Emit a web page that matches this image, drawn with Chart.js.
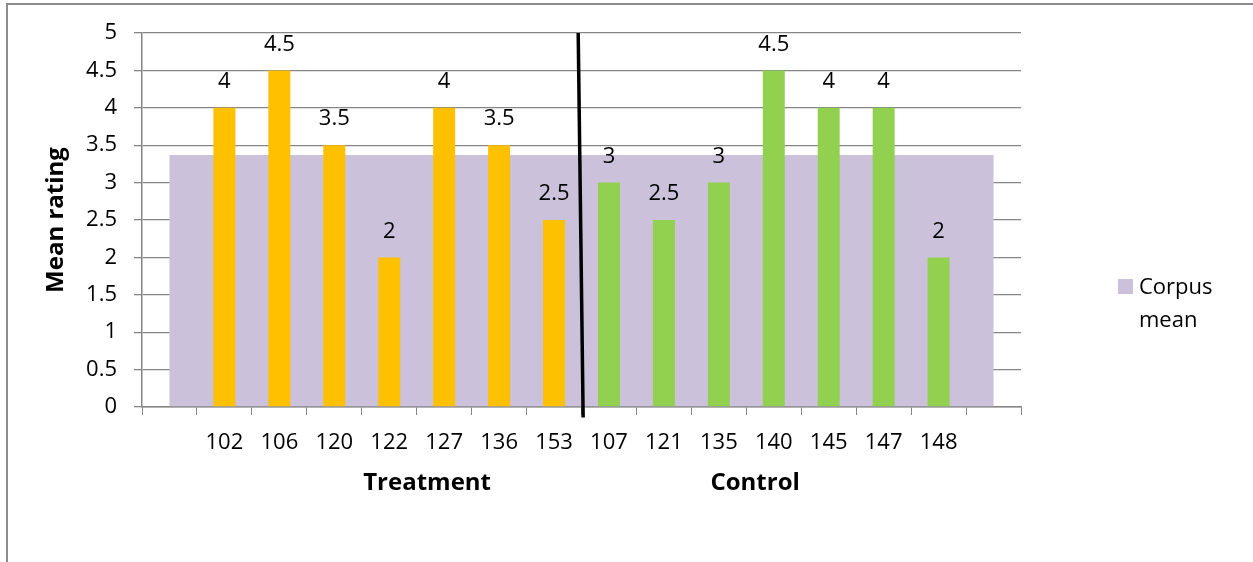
<!DOCTYPE html>
<html>
<head>
<meta charset="utf-8">
<script src="https://cdn.jsdelivr.net/npm/chart.js@4/dist/chart.umd.min.js"></script>
<style>
  html, body { margin: 0; padding: 0; background: #fff; }
  #wrap { width: 1253px; height: 562px; position: relative; }
</style>
</head>
<body>
<div id="wrap"><canvas id="c" width="1253" height="562"></canvas></div>
<script>
// Participant IDs; empty slots pad both ends of the axis
const categories = ['', '102', '106', '120', '122', '127', '136', '153',
                    '107', '121', '135', '140', '145', '147', '148', ''];
// Mean rating per participant (null = empty slot)
const ratings = [null, 4, 4.5, 3.5, 2, 4, 3.5, 2.5,
                 3, 2.5, 3, 4.5, 4, 4, 2, null];
// Group of each slot
const groups = ['', 'T', 'T', 'T', 'T', 'T', 'T', 'T',
                'C', 'C', 'C', 'C', 'C', 'C', 'C', ''];
const groupColors = { T: '#FFC000', C: '#92D050', '': '#FFC000' };

// Corpus-wide mean rating
const corpusMean = [3.37];
const corpusLabel = 'Corpus mean';

// Divider between the two groups (slot units, rating units)
const dividerX = [7.94, 8.03];
const dividerY = [5, -0.14];

// Group captions and their positions in slot units
const groupNames = ['Treatment', 'Control'];
const groupPos = [5.19, 11.16];

const yTicks = { min: 0, max: 5, step: 0.5 };

const FONT = "'Open Sans', 'DejaVu Sans', sans-serif";
const GRID = '#868686';

const frame = {
  id: 'frame',
  beforeDraw(chart) {
    const ctx = chart.ctx;
    ctx.save();
    ctx.fillStyle = '#fff';
    ctx.fillRect(0, 0, chart.width, chart.height);
    ctx.strokeStyle = '#8c8c8c';
    ctx.lineWidth = 2;
    ctx.beginPath();
    ctx.moveTo(7, chart.height);
    ctx.lineTo(7, 4);
    ctx.lineTo(chart.width, 4);
    ctx.stroke();
    ctx.restore();
  }
};

const valueLabels = {
  id: 'valueLabels',
  afterDatasetsDraw(chart) {
    const meta = chart.getDatasetMeta(1);
    const ctx = chart.ctx;
    ctx.save();
    ctx.font = '22px ' + FONT;
    ctx.fillStyle = '#000';
    ctx.textAlign = 'center';
    ctx.textBaseline = 'middle';
    meta.data.forEach((bar, i) => {
      const v = ratings[i];
      if (v === null) return;
      ctx.fillText(String(v), bar.x, bar.y - 26);
    });
    ctx.restore();
  }
};

const groupCaptions = {
  id: 'groupCaptions',
  afterDraw(chart) {
    const s = chart.scales.xLin;
    const ctx = chart.ctx;
    ctx.save();
    ctx.font = 'bold 24px ' + FONT;
    ctx.fillStyle = '#000';
    ctx.textAlign = 'center';
    ctx.textBaseline = 'middle';
    groupNames.forEach((g, i) => {
      ctx.fillText(g, s.getPixelForValue(groupPos[i]), chart.chartArea.bottom + 76);
    });
    ctx.restore();
  }
};

const sideLegend = {
  id: 'sideLegend',
  afterDraw(chart) {
    const ds = chart.data.datasets[0];
    const ctx = chart.ctx;
    const x = chart.chartArea.right + 97;
    const y = 279;
    ctx.save();
    ctx.fillStyle = ds.backgroundColor;
    ctx.fillRect(x, y, 15, 15);
    ctx.font = '22px ' + FONT;
    ctx.fillStyle = '#000';
    ctx.textAlign = 'left';
    ctx.textBaseline = 'middle';
    ds.label.split(' ').forEach((w, i) => {
      ctx.fillText(w, x + 21, y + 9 + i * 33);
    });
    ctx.restore();
  }
};

new Chart(document.getElementById('c'), {
  data: {
    labels: categories,
    datasets: [
      {
        type: 'bar',
        label: corpusLabel,
        data: corpusMean,
        xAxisID: 'xMean',
        backgroundColor: '#CCC1DA',
        grouped: false,
        barPercentage: 0.9375,
        categoryPercentage: 1,
        order: 3
      },
      {
        type: 'bar',
        label: 'Mean rating',
        data: ratings,
        xAxisID: 'x',
        backgroundColor: groups.map(g => groupColors[g]),
        grouped: false,
        barPercentage: 0.4,
        categoryPercentage: 1,
        order: 2
      },
      {
        type: 'line',
        label: 'divider',
        data: dividerX.map((x, i) => ({ x: x, y: dividerY[i] })),
        xAxisID: 'xLin',
        borderColor: '#000',
        borderWidth: 3.5,
        pointRadius: 0,
        clip: false,
        order: 1
      }
    ]
  },
  options: {
    responsive: false,
    animation: false,
    layout: { padding: { left: 0, top: 33, right: 232, bottom: 0 } },
    plugins: {
      legend: { display: false },
      tooltip: { enabled: false }
    },
    scales: {
      x: {
        type: 'category',
        offset: true,
        grid: {
          display: true,
          drawOnChartArea: false,
          drawTicks: true,
          tickLength: 8,
          color: GRID,
          offset: true
        },
        border: { display: true, color: GRID, width: 1.5 },
        ticks: {
          font: { family: FONT, size: 22 },
          color: '#000',
          padding: 15,
          maxRotation: 0,
          autoSkip: false
        },
        afterFit(s) { s.height = 155; }
      },
      xMean: {
        type: 'category',
        labels: ['all'],
        display: false,
        offset: true
      },
      xLin: {
        type: 'linear',
        min: 0,
        max: categories.length,
        display: false,
        offset: false
      },
      y: {
        min: yTicks.min,
        max: yTicks.max,
        ticks: {
          stepSize: yTicks.step,
          font: { family: FONT, size: 22 },
          color: '#000',
          padding: 17,
          callback: v => String(v)
        },
        grid: { color: GRID, tickLength: 8, lineWidth: 1.3 },
        border: { display: true, color: GRID, width: 1.5 },
        title: {
          display: true,
          text: 'Mean rating',
          font: { family: FONT, size: 24, weight: 'bold' },
          color: '#000',
          padding: { top: 42, bottom: 0 }
        },
        afterFit(s) { s.width = 142; }
      }
    }
  },
  plugins: [frame, valueLabels, groupCaptions, sideLegend]
});
</script>
</body>
</html>
